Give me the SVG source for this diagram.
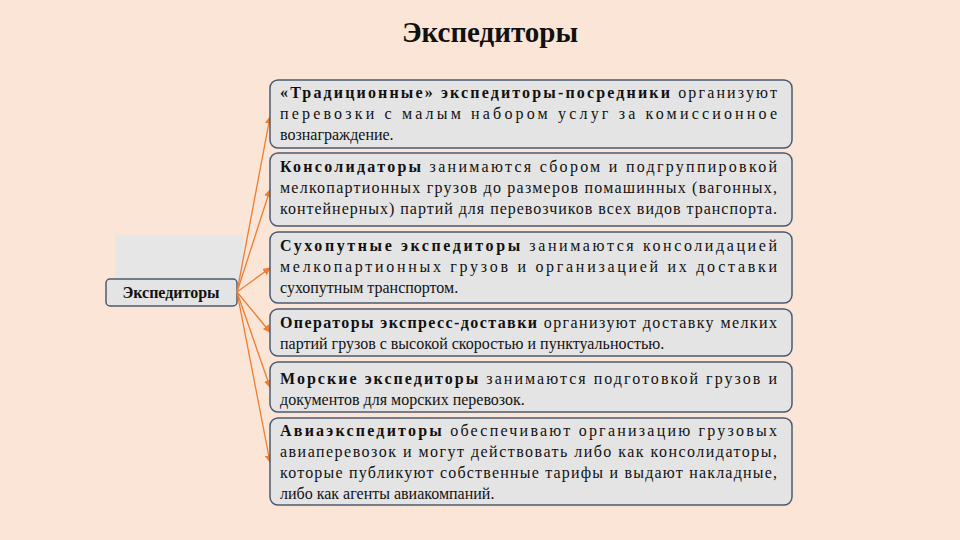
<svg xmlns="http://www.w3.org/2000/svg" width="960" height="540" viewBox="0 0 960 540">
<defs>
<style>
.b{fill:#e4e4e4;stroke:#4b5a70;stroke-width:1.5}
text{font-family:'Liberation Serif','Times New Roman','DejaVu Serif',serif;font-size:16px;fill:#111}
.h{font-weight:bold}
.c{stroke:#ed7d31;stroke-width:1.3;fill:none}
</style>
<marker id="a" viewBox="0 0 8 8" refX="7" refY="4" markerWidth="6" markerHeight="6" orient="auto"><path d="M0,0L8,4L0,8z" fill="#ed7d31"/></marker>
</defs>
<rect width="960" height="540" fill="#fbe5d6"/>
<text x="490" y="42" text-anchor="middle" class="h" style="font-size:29px">Экспедиторы</text>
<rect x="115" y="235" width="128" height="46" fill="#e6e6e6"/>
<g id="root"><rect class="b" x="106" y="279" width="131" height="27" rx="4"/><text x="171" y="298" text-anchor="middle" class="h">Экспедиторы</text></g>
<g id="connectors">
<path class="c" marker-end="url(#a)" d="M237,292L270,117"/>
<path class="c" marker-end="url(#a)" d="M237,292L270,190"/>
<path class="c" marker-end="url(#a)" d="M237,292L270,268"/>
<path class="c" marker-end="url(#a)" d="M237,292L270,332"/>
<path class="c" marker-end="url(#a)" d="M237,292L270,387"/>
<path class="c" marker-end="url(#a)" d="M237,292L270,462"/>
</g>
<g id="n1"><rect class="b" x="270" y="80" width="522" height="68" rx="8"/>
<text x="280" y="98" textLength="497" lengthAdjust="spacing"><tspan class="h">«Традиционные» экспедиторы-посредники</tspan> организуют</text>
<text x="280" y="119" textLength="497" lengthAdjust="spacing">перевозки с малым набором услуг за комиссионное</text>
<text x="280" y="140">вознаграждение.</text></g>
<g id="n2"><rect class="b" x="270" y="153" width="522" height="73" rx="8"/>
<text x="280" y="172" textLength="497" lengthAdjust="spacing"><tspan class="h">Консолидаторы</tspan> занимаются сбором и подгруппировкой</text>
<text x="280" y="193" textLength="497" lengthAdjust="spacing">мелкопартионных грузов до размеров помашинных (вагонных,</text>
<text x="280" y="214" textLength="497" lengthAdjust="spacing">контейнерных) партий для перевозчиков всех видов транспорта.</text></g>
<g id="n3"><rect class="b" x="270" y="232" width="522" height="71" rx="8"/>
<text x="280" y="251" textLength="497" lengthAdjust="spacing"><tspan class="h">Сухопутные экспедиторы</tspan> занимаются консолидацией</text>
<text x="280" y="272" textLength="497" lengthAdjust="spacing">мелкопартионных грузов и организацией их доставки</text>
<text x="280" y="293">сухопутным транспортом.</text></g>
<g id="n4"><rect class="b" x="270" y="309" width="522" height="47" rx="8"/>
<text x="280" y="328" textLength="497" lengthAdjust="spacing"><tspan class="h">Операторы экспресс-доставки</tspan> организуют доставку мелких</text>
<text x="280" y="349">партий грузов с высокой скоростью и пунктуальностью.</text></g>
<g id="n5"><rect class="b" x="270" y="362" width="522" height="50" rx="8"/>
<text x="280" y="384" textLength="497" lengthAdjust="spacing"><tspan class="h">Морские экспедиторы</tspan> занимаются подготовкой грузов и</text>
<text x="280" y="405">документов для морских перевозок.</text></g>
<g id="n6"><rect class="b" x="270" y="418" width="522" height="87" rx="8"/>
<text x="280" y="436" textLength="497" lengthAdjust="spacing"><tspan class="h">Авиаэкспедиторы</tspan> обеспечивают организацию грузовых</text>
<text x="280" y="457" textLength="497" lengthAdjust="spacing">авиаперевозок и могут действовать либо как консолидаторы,</text>
<text x="280" y="478" textLength="497" lengthAdjust="spacing">которые публикуют собственные тарифы и выдают накладные,</text>
<text x="280" y="499">либо как агенты авиакомпаний.</text></g>
</svg>
